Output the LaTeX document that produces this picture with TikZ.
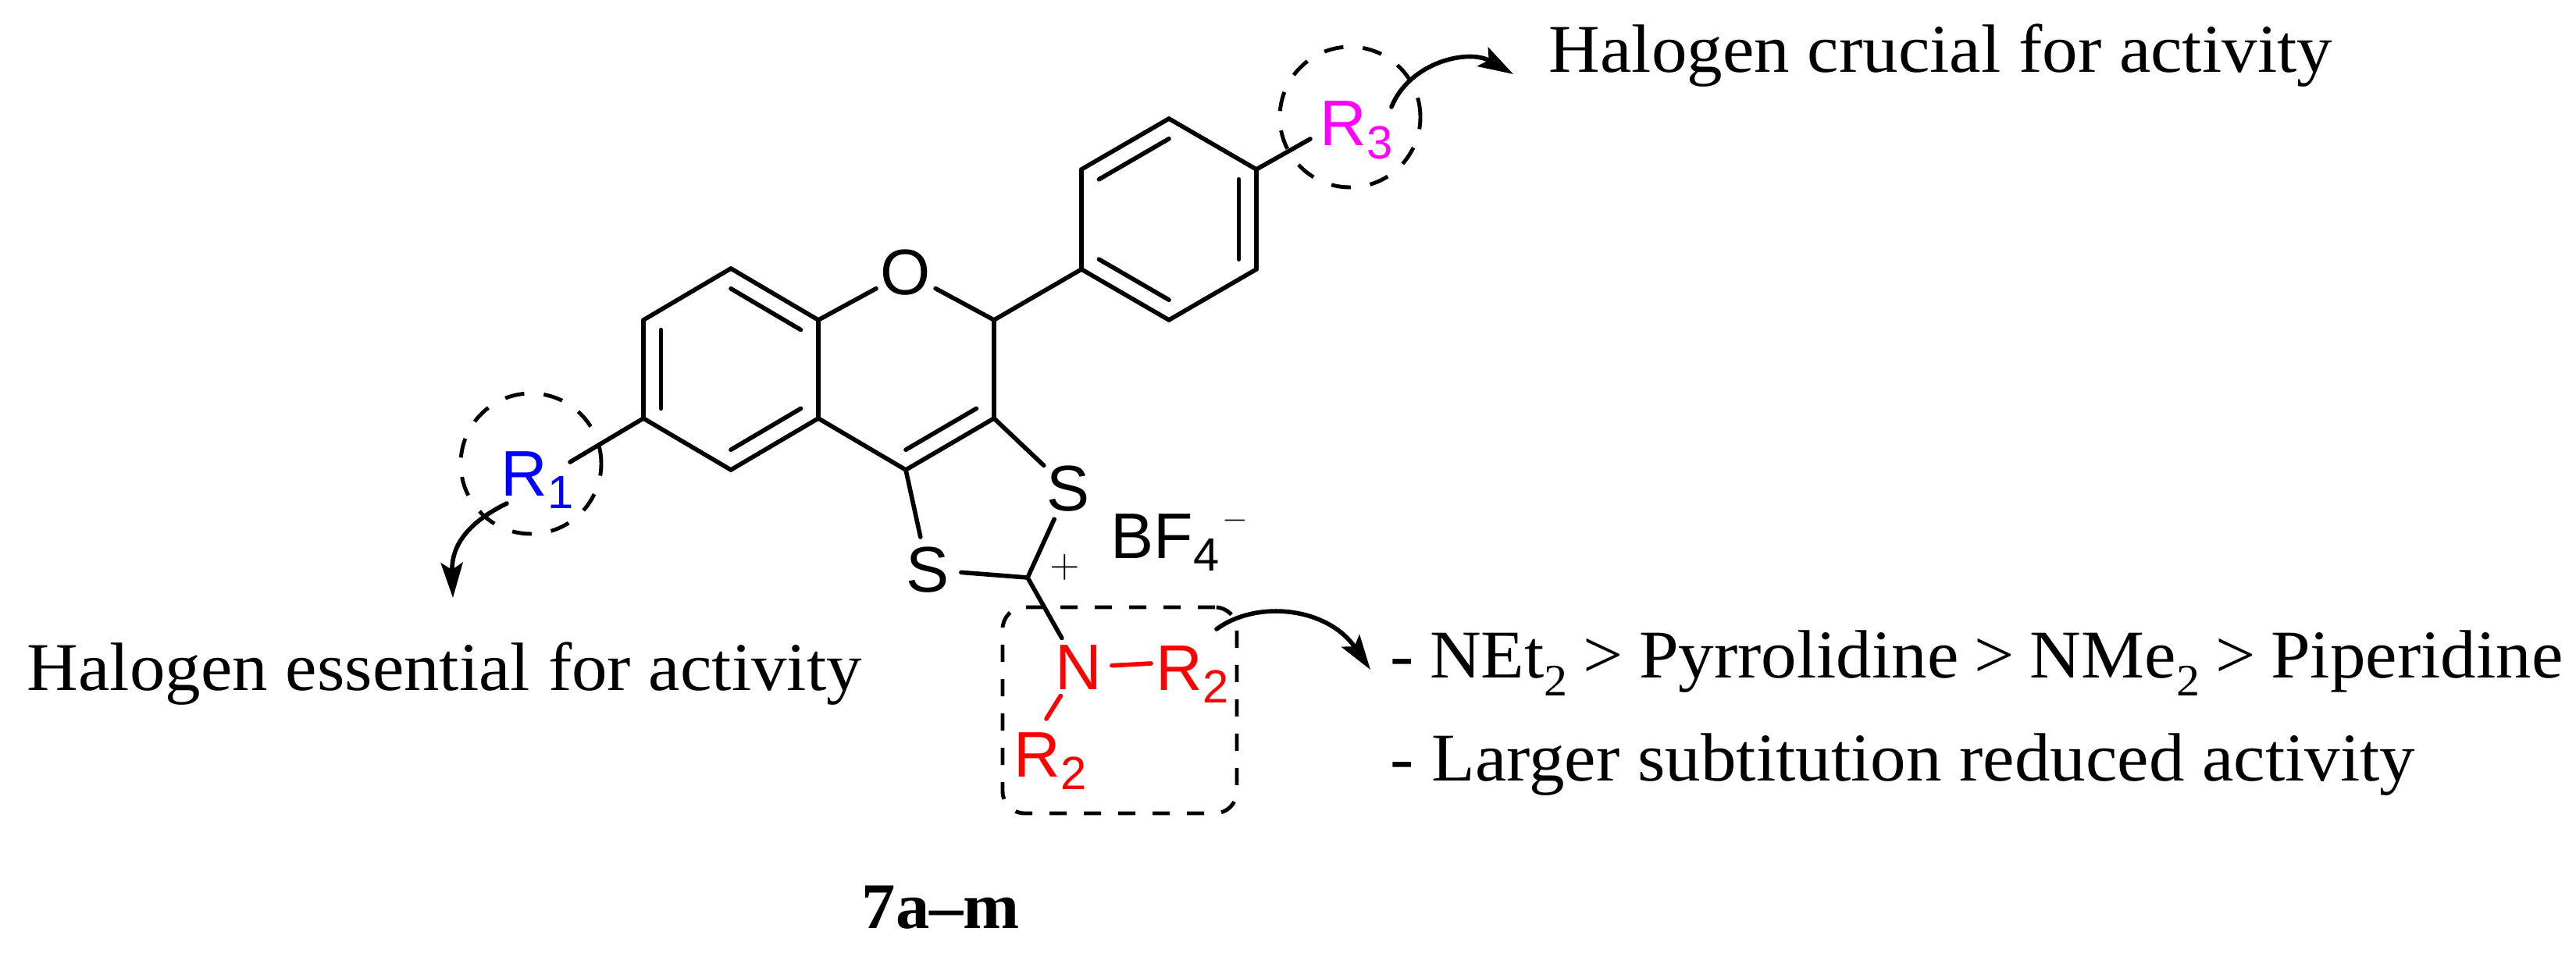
\documentclass[tikz,border=0pt]{standalone}
\usepackage{fontspec}
\setmainfont[FakeStretch=1.04]{Liberation Serif}
\newfontfamily\atomfont{Liberation Sans}
\usetikzlibrary{calc}
\usetikzlibrary{arrows.meta}
\definecolor{rthreepink}{RGB}{255,0,255}
\newcommand{\atomsub}[1]{\raisebox{-4.8pt}{\fontsize{17}{17}\selectfont #1}}
\newcommand{\textsub}[1]{\raisebox{-6.5pt}{\fontsize{16.4}{16.4}\selectfont #1}}
\tikzset{
    bond/.style={line width=1.6pt, line cap=round},
    atom/.style={circle, inner sep=0pt, outer sep=0pt, minimum size=0.86cm, font=\atomfont\fontsize{23.5}{23.5}\selectfont},
    rgroup/.style={anchor=base west, inner sep=0pt, font=\atomfont\fontsize{23.5}{23.5}\selectfont},
    dashring/.style={draw, circle, dash pattern=on 0.25cm off 0.25cm, line width=1.4pt, inner sep=0pt, minimum size=1.8cm},
    note/.style={anchor=base west, inner sep=0pt, font=\fontsize{24.9}{24.9}\selectfont},
    curlyarrow/.style={line width=1.6pt, line cap=round, -{Stealth[length=0.45cm, width=0.28cm, inset=0.09cm]}}
}

\begin{document}
\begin{tikzpicture}
    \useasboundingbox (0,0) rectangle (32.99,12.2);

    % Benzo ring
    \coordinate (a1) at (8.24,6.84);
    \coordinate (a2) at (8.24,8.10);
    \coordinate (a3) at (9.36,8.76);
    \coordinate (a4) at (10.48,8.10);
    \coordinate (a5) at (10.48,6.84);
    \coordinate (a6) at (9.36,6.18);
    \coordinate (ca) at (9.36,7.47);

    % Pyran ring
    \coordinate (c2) at (12.73,8.10);
    \coordinate (c3) at (12.73,6.84);
    \coordinate (c4) at (11.60,6.18);
    \coordinate (cb) at (11.60,7.47);

    % Phenyl ring
    \coordinate (p1) at (13.85,8.75);
    \coordinate (p2) at (13.85,10.03);
    \coordinate (p3) at (14.97,10.68);
    \coordinate (p4) at (16.09,10.03);
    \coordinate (p5) at (16.09,8.75);
    \coordinate (p6) at (14.97,8.10);
    \coordinate (cc) at (14.97,9.39);

    % Dithiolium carbon and free bond ends
    \coordinate (cplus) at (13.16,4.80);
    \coordinate (r1end) at (7.30,6.28);
    \coordinate (r3end) at (16.78,10.42);
    \coordinate (r2right) at (14.74,3.70);
    \coordinate (r2low) at (13.40,2.99);

    % Hetero atoms
    \node[atom] (oxy) at (11.60,8.71) {O};
    \node[atom] (sulfa) at (13.68,5.94) {S};
    \node[atom] (sulfb) at (11.88,4.90) {S};
    \node[atom, text=red] (nitro) at (13.81,3.65) {N};

    % Substituents
    \node[rgroup, text=blue] (rone) at (6.41,5.85) {R\atomsub{1}};
    \node[rgroup, text=rthreepink] (rthree) at (16.90,10.33) {R\atomsub{3}};
    \node[rgroup, text=red] (rtwoa) at (14.80,3.36) {R\atomsub{2}};
    \node[rgroup, text=red] (rtwob) at (12.98,2.25) {R\atomsub{2}};
    \node[rgroup] (anion) at (14.22,5.05) {BF\atomsub{4}\kern1pt\raisebox{10.8pt}{\fontsize{13.2}{13.2}\selectfont$-$}};
    \node[inner sep=0pt, font=\fontsize{14}{14}\selectfont] (charge) at (13.64,4.93) {$+$};

    % Skeleton bonds
    \foreach \a/\b in {a1/a2,a2/a3,a3/a4,a4/a5,a5/a6,a6/a1,a5/c4,c4/c3,c3/c2,c2/p1,
                       p1/p2,p2/p3,p3/p4,p4/p5,p5/p6,p6/p1,a1/r1end,p4/r3end} {
        \draw[bond] (\a) -- (\b);
    }

    % Inner lines of the double bonds
    \foreach \a/\b/\c in {a1/a2/ca,a3/a4/ca,a5/a6/ca,c3/c4/cb,p2/p3/cc,p4/p5/cc,p6/p1/cc} {
        \draw[bond] ($(\a)!0.2!(\c)$) -- ($(\b)!0.2!(\c)$);
    }

    % Bonds to the hetero atoms
    \draw[bond] (a4) -- (oxy);
    \draw[bond] (oxy) -- (c2);
    \draw[bond] (c3) -- (sulfa);
    \draw[bond] (c4) -- (sulfb);
    \draw[bond] (sulfa) -- (cplus);
    \draw[bond] (sulfb) -- (cplus);
    \draw[bond] (cplus) -- (nitro);
    \draw[bond, red] (nitro) -- (r2right);
    \draw[bond, red] (nitro) -- (r2low);

    % Dashed outlines
    \node[dashring] (ringone) at (6.80,6.26) {};
    \node[dashring] (ringthree) at (17.29,10.70) {};
    \node[draw, dash pattern=on 0.22cm off 0.22cm, line width=1.4pt, rounded corners=0.28cm,
          minimum width=3.00cm, minimum height=2.64cm, inner sep=0pt] (aminebox) at (14.34,3.10) {};

    % Arrows to the notes
    \coordinate (oneout) at (6.49,5.75);
    \coordinate (onetip) at (5.80,4.54);
    \coordinate (twoout) at (15.58,4.14);
    \coordinate (twotip) at (17.55,3.62);
    \coordinate (threeout) at (17.82,10.83);
    \coordinate (threetip) at (19.38,11.25);
    \draw[curlyarrow] (oneout) .. controls (5.98,5.50) and (5.78,5.20) .. (onetip);
    \draw[curlyarrow] (twoout) .. controls (16.10,4.52) and (17.00,4.42) .. (twotip);
    \draw[curlyarrow] (threeout) .. controls (18.05,11.40) and (18.80,11.58) .. (threetip);

    % Notes
    \node[note] (crucial) at (19.83,11.27) {Halogen crucial for activity};
    \node[note] (essential) at (0.34,3.36) {Halogen essential for activity};
    \node[note] (order) at (17.80,3.515) {\spaceskip=5.7pt - NEt\textsub{2} > Pyrrolidine > NMe\textsub{2} > Piperidine};
    \node[note] (larger) at (17.80,2.20) {- Larger subtitution reduced activity};
    \node[note, font=\fontsize{23.7}{23.7}\selectfont\bfseries] (compound) at (11.03,0.31) {7a--m};
\end{tikzpicture}
\end{document}
